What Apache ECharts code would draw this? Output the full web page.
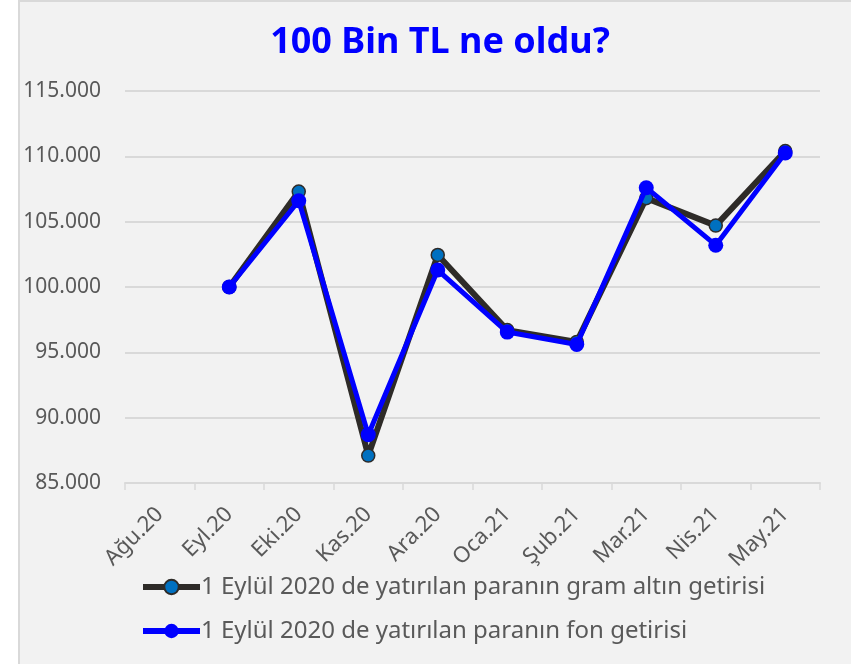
<!DOCTYPE html>
<html>
<head>
<meta charset="utf-8">
<script src="https://cdn.jsdelivr.net/npm/echarts@6/dist/echarts.min.js"></script>
<style>
  html, body { margin: 0; padding: 0; background: #ffffff; }
  #frame {
    position: absolute; left: 18px; top: 0; width: 840px; height: 664px;
    background: #f2f2f2; border-left: 2px solid #d9d9d9; border-top: 2px solid #d9d9d9;
    box-sizing: border-box;
  }
  #chart { position: absolute; left: 0; top: 0; width: 851px; height: 664px; }
</style>
</head>
<body>
<div id="frame"></div>
<div id="chart"></div>
<script>
const months = ["Ağu.20", "Eyl.20", "Eki.20", "Kas.20", "Ara.20", "Oca.21", "Şub.21", "Mar.21", "Nis.21", "May.21"];
const goldValues = [null, 100000, 107300, 87100, 102450, 96700, 95800, 106800, 104700, 110400];
const fundValues = [null, 100000, 106600, 88700, 101300, 96550, 95600, 107600, 103200, 110250];
const goldName = "1 Eylül 2020 de yatırılan paranın gram altın getirisi";
const fundName = "1 Eylül 2020 de yatırılan paranın fon getirisi";

const font = "Noto Sans";
const mychart = echarts.init(document.getElementById("chart"));
const option = {
  backgroundColor: "transparent",
  textStyle: { fontFamily: font },
  title: {
    text: "100 Bin TL ne oldu?",
    left: 435,
    textAlign: "center",
    top: 20,
    textStyle: { color: "#0000ff", fontSize: 36, fontWeight: "bold", fontFamily: font }
  },
  grid: { left: 125, right: 31, top: 91, bottom: 181, containLabel: false },
  xAxis: {
    type: "category",
    data: months,
    boundaryGap: true,
    axisLine: { lineStyle: { color: "#d9d9d9", width: 2 } },
    axisTick: { show: true, length: 7, lineStyle: { color: "#d9d9d9", width: 1.5 } },
    axisLabel: { color: "#595959", fontSize: 22, rotate: 45, margin: 28, interval: 0 }
  },
  yAxis: {
    type: "value",
    min: 85000,
    max: 115000,
    interval: 5000,
    axisLine: { show: false },
    axisTick: { show: false },
    axisLabel: {
      color: "#595959",
      fontSize: 21,
      margin: 24,
      formatter: v => v.toLocaleString("de-DE")
    },
    splitLine: { lineStyle: { color: "#d9d9d9", width: 2 } }
  },
  legend: {
    orient: "vertical",
    left: 140,
    top: 575,
    padding: 0,
    itemGap: 20,
    itemWidth: 57,
    itemHeight: 18,
    lineStyle: { width: 6 },
    textStyle: { color: "#595959", fontSize: 24, padding: [0, 0, 0, -4] },
    data: [goldName, fundName]
  },
  series: [
    {
      name: goldName,
      type: "line",
      data: goldValues,
      symbol: "circle",
      symbolSize: 13,
      lineStyle: { color: "#2e2b28", width: 6 },
      itemStyle: { color: "#0070c0", borderColor: "#2e2b28", borderWidth: 1.5 },
      z: 2
    },
    {
      name: fundName,
      type: "line",
      data: fundValues,
      symbol: "circle",
      symbolSize: 15,
      lineStyle: { color: "#0000ff", width: 5 },
      itemStyle: { color: "#0000ff", borderColor: "#0000ff", borderWidth: 0 },
      z: 3
    }
  ]
};
mychart.setOption(option);
</script>
</body>
</html>
